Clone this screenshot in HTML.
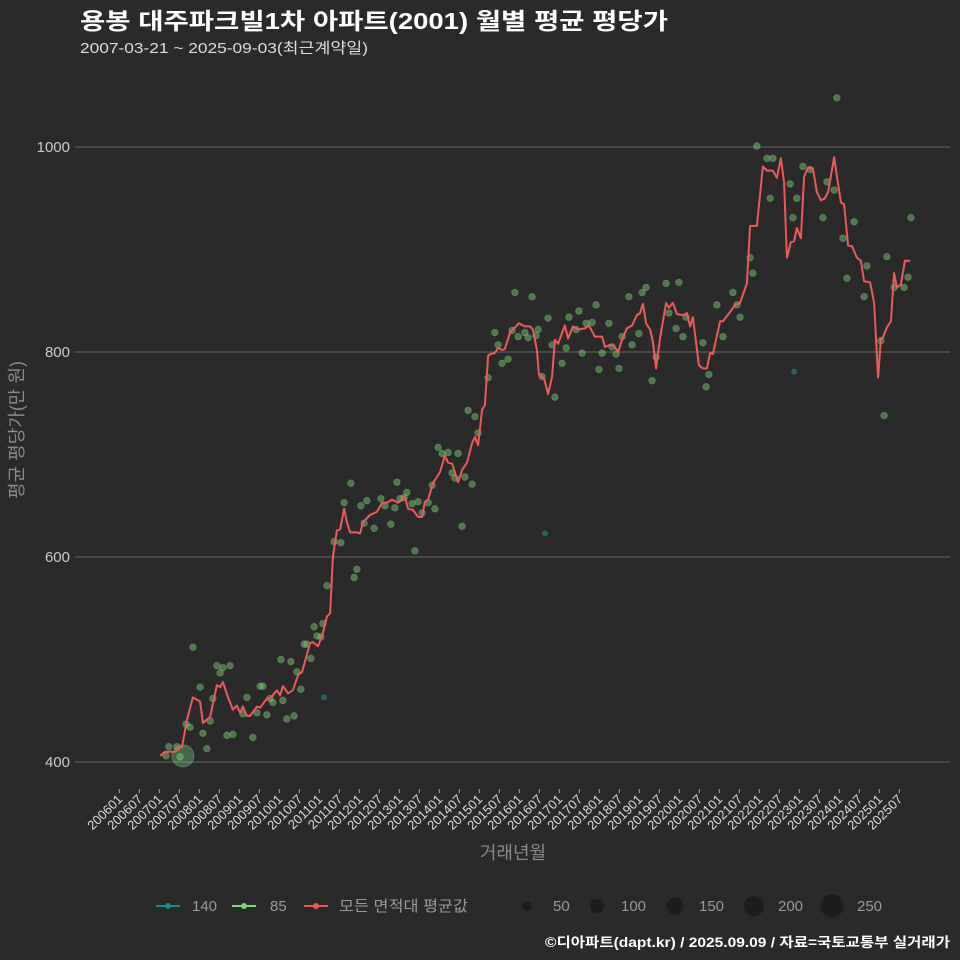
<!DOCTYPE html>
<html><head><meta charset="utf-8">
<style>
html,body{margin:0;padding:0;background:#2a2a2b;}
svg{display:block;font-family:"Liberation Sans","Noto Sans CJK KR",sans-serif;}
</style></head>
<body>
<svg id="chart" width="960" height="960" viewBox="0 0 960 960">
<rect width="960" height="960" fill="#2a2a2b"/>
<text x="80" y="29" fill="#ffffff" font-size="23" font-weight="bold" textLength="588" lengthAdjust="spacingAndGlyphs">용봉 대주파크빌1차 아파트(2001) 월별 평균 평당가</text>
<text x="80" y="53" fill="#dddddd" font-size="15" textLength="288" lengthAdjust="spacingAndGlyphs">2007-03-21 ~ 2025-09-03(최근계약일)</text>
<g id="grid"></g>
<g id="yticks"></g>
<g id="xticks"></g>
<g id="pts"></g>
<g id="line"></g>
<text transform="translate(23,430) rotate(-90)" text-anchor="middle" fill="#8a8a8a" font-size="18">평균 평당가(만 원)</text>
<text x="513" y="859" text-anchor="middle" fill="#8a8a8a" font-size="18">거래년월</text>
<g font-size="15" fill="#9a9a9a">
  <g>
    <line x1="156" y1="906" x2="180" y2="906" stroke="#1f8c8c" stroke-width="2"/>
    <circle cx="168" cy="906" r="3" fill="#1f8c8c"/>
    <text x="192" y="911" fill="#9a9a9a">140</text></g>
  <g>
    <line x1="232" y1="906" x2="256" y2="906" stroke="#7ed37a" stroke-width="2"/>
    <circle cx="244" cy="906" r="3" fill="#7ed37a"/>
    <text x="270" y="911" fill="#9a9a9a">85</text></g>
  <g>
    <line x1="304" y1="906" x2="328" y2="906" stroke="#e85a5a" stroke-width="2"/>
    <circle cx="316" cy="906" r="3" fill="#e85a5a"/>
    <text x="339" y="911" fill="#9a9a9a" textLength="129" lengthAdjust="spacingAndGlyphs">모든 면적대 평균값</text></g>
  <g>
    <circle cx="527" cy="906" r="5" fill="#1c1c1c"/><text x="553" y="911">50</text>
    <circle cx="597" cy="906" r="7" fill="#1c1c1c"/><text x="621" y="911">100</text>
    <circle cx="675" cy="906" r="8.5" fill="#1c1c1c"/><text x="699" y="911">150</text>
    <circle cx="754" cy="906" r="10" fill="#1c1c1c"/><text x="778" y="911">200</text>
    <circle cx="832" cy="906" r="11.5" fill="#1c1c1c"/><text x="857" y="911">250</text>
  </g>
</g>
<text x="950" y="947" text-anchor="end" fill="#ffffff" font-size="13.5" font-weight="bold" textLength="405" lengthAdjust="spacingAndGlyphs">©디아파트(dapt.kr) / 2025.09.09 / 자료=국토교통부 실거래가</text>
</svg>
<script>
const yTicks = [400, 600, 800, 1000];
const xTickLabels = [];
for (let y = 2006; y <= 2025; y++) { xTickLabels.push(y + "01"); xTickLabels.push(y + "07"); }
const lineT = [2007.02,2007.14,2007.39,2007.57,2007.69,2007.84,2008.02,2008.09,2008.27,2008.44,2008.52,2008.59,2008.72,2008.84,2008.94,2009.02,2009.09,2009.19,2009.27,2009.44,2009.52,2009.69,2009.77,2009.94,2010.02,2010.09,2010.22,2010.34,2010.47,2010.57,2010.77,2010.84,2010.97,2011.09,2011.19,2011.27,2011.34,2011.44,2011.52,2011.62,2011.69,2011.77,2011.94,2012.02,2012.09,2012.27,2012.44,2012.57,2012.69,2012.82,2012.97,2013.14,2013.22,2013.34,2013.47,2013.57,2013.64,2013.72,2013.84,2014.02,2014.14,2014.22,2014.32,2014.47,2014.57,2014.69,2014.82,2014.89,2014.97,2015.07,2015.14,2015.22,2015.27,2015.39,2015.47,2015.57,2015.64,2015.77,2015.84,2015.99,2016.14,2016.27,2016.34,2016.44,2016.49,2016.62,2016.72,2016.82,2016.89,2016.97,2017.14,2017.22,2017.34,2017.47,2017.64,2017.74,2017.89,2018.07,2018.14,2018.27,2018.37,2018.47,2018.57,2018.69,2018.82,2018.94,2019.02,2019.09,2019.17,2019.27,2019.34,2019.42,2019.52,2019.67,2019.74,2019.84,2019.94,2020.09,2020.19,2020.27,2020.34,2020.49,2020.59,2020.69,2020.77,2020.84,2021.02,2021.09,2021.27,2021.39,2021.52,2021.69,2021.77,2021.94,2022.09,2022.19,2022.34,2022.44,2022.54,2022.62,2022.69,2022.79,2022.87,2022.94,2023.04,2023.12,2023.22,2023.34,2023.44,2023.54,2023.64,2023.72,2023.87,2024.04,2024.12,2024.22,2024.32,2024.44,2024.54,2024.62,2024.77,2024.87,2024.97,2025.04,2025.09,2025.19,2025.29,2025.37,2025.44,2025.54,2025.64,2025.77];
const lineV = [406,410,410,415,441,463,459,438,444,475,473,478,463,451,455,448,454,445,445,454,453,462,462,470,465,474,467,470,485,488,516,517,513,526,542,545,600,626,627,647,634,624,624,623,634,641,644,653,653,656,653,659,647,646,639,639,654,656,672,683,699,692,691,673,685,692,711,717,709,744,748,796,798,799,804,802,803,819,822,828,825,825,822,802,778,774,759,776,812,808,826,813,825,822,823,826,815,815,805,807,806,800,812,823,826,836,838,847,828,822,810,784,814,848,843,848,837,836,838,825,834,787,784,784,799,798,830,830,839,846,848,867,923,923,981,977,977,970,989,965,892,907,908,921,911,971,980,979,956,948,950,956,990,946,944,904,903,892,889,869,868,848,775,813,814,824,830,877,863,866,889,889];
const ptsT = [2007.17,2007.24,2007.44,2007.52,2007.84,2007.67,2007.77,2008.02,2008.09,2008.19,2008.27,2008.34,2008.44,2008.52,2008.59,2008.77,2008.69,2008.84,2009.19,2009.09,2009.34,2009.44,2009.52,2009.59,2009.69,2009.77,2009.84,2010.04,2010.09,2010.19,2010.29,2010.37,2010.44,2010.54,2010.62,2010.69,2010.79,2010.87,2010.94,2011.04,2011.09,2011.19,2011.37,2011.54,2011.62,2011.79,2011.87,2011.94,2012.04,2012.12,2012.19,2012.37,2012.54,2012.64,2012.79,2012.89,2013.02,2012.94,2013.19,2013.12,2013.32,2013.47,2013.57,2013.39,2013.72,2013.82,2013.89,2013.97,2014.07,2014.22,2014.32,2014.39,2014.47,2014.57,2014.64,2014.82,2014.72,2014.89,2014.97,2015.22,2015.39,2015.47,2015.57,2015.72,2015.82,2015.89,2015.97,2016.14,2016.22,2016.32,2016.42,2016.47,2016.57,2016.72,2016.82,2016.89,2017.07,2017.17,2017.24,2017.42,2017.49,2017.57,2017.67,2017.82,2017.92,2017.99,2018.07,2018.24,2018.32,2018.42,2018.49,2018.57,2018.74,2018.82,2018.99,2019.07,2019.17,2019.32,2019.42,2019.67,2019.74,2019.99,2019.92,2020.09,2020.17,2020.59,2020.67,2020.74,2020.94,2021.09,2021.34,2021.44,2021.52,2021.77,2021.84,2021.94,2022.19,2022.34,2022.27,2022.77,2022.84,2022.94,2023.09,2023.27,2023.59,2023.69,2023.87,2023.94,2024.09,2024.19,2024.37,2024.69,2024.62,2025.04,2025.12,2025.19,2025.37,2025.62,2025.72,2025.79];
const ptsV = [406,415,415,405,512,437,434,473,428,413,440,462,494,487,492,494,426,427,463,447,424,448,474,474,446,462,458,500,460,442,498,445,488,471,515,515,501,532,523,522,535,572,615,614,653,672,580,588,650,633,655,628,657,650,632,648,657,673,663,658,652,654,643,606,653,670,647,707,701,702,682,677,701,630,678,671,743,737,721,775,819,807,789,793,821,858,815,819,814,854,816,822,776,833,807,756,789,804,834,822,840,799,828,829,846,783,799,828,805,798,784,815,854,807,818,858,863,772,795,867,838,868,823,815,834,809,766,778,846,815,858,846,834,892,877,1001,989,989,950,964,931,950,981,978,931,966,958,1048,911,872,927,884,854,811,738,893,863,863,873,931];
const bigT = [2007.59];
const bigV = [406];
const tealT = [2011.12, 2016.64, 2022.87];
const tealV = [463, 623, 781];

const NS = "http://www.w3.org/2000/svg";
const xOf = t => 119.3 + (t - 2006) * 40;
const yOf = v => 762 - (v - 400) * 1.025;
function mk(tag, attrs, parent) {
  const e = document.createElementNS(NS, tag);
  for (const k in attrs) e.setAttribute(k, attrs[k]);
  parent.appendChild(e); return e;
}
const grid = document.getElementById("grid"), yt = document.getElementById("yticks");
yTicks.forEach(v => {
  const l = mk("line", {x1: 75, x2: 950, y1: yOf(v), y2: yOf(v), stroke: "#5a5a5a", "stroke-width": 1.2}, grid);
  
  
  const t = mk("text", {x: 70, y: yOf(v) + 5, "text-anchor": "end", fill: "#cccccc", "font-size": 15}, yt);
  t.textContent = v;
  
  
});
const xt = document.getElementById("xticks");
xTickLabels.forEach((lab, i) => {
  const x = xOf(2006 + i * 0.5);
  const tk = mk("line", {x1: x, x2: x, y1: 789, y2: 793, stroke: "#aaaaaa", "stroke-width": 1}, xt);
  
  
  const t = mk("text", {x: x + 4, y: 800, "text-anchor": "end", fill: "#dddddd", "font-size": 13, transform: `rotate(-45 ${x + 4} 800)`}, xt);
  t.textContent = lab;
  
  
});
const pg = document.getElementById("pts");
ptsT.forEach((t, i) => {
  const c = mk("circle", {cx: xOf(t), cy: yOf(ptsV[i]), r: 3.3, fill: "#7ed37a", "fill-opacity": 0.45, stroke: "#8fdc8a", "stroke-opacity": 0.35, "stroke-width": 0.8}, pg);
  
  
});
bigT.forEach((t, i) => {
  const c = mk("circle", {cx: xOf(t), cy: yOf(bigV[i]), r: 11, fill: "#7ed37a", "fill-opacity": 0.35, stroke: "#8fdc8a", "stroke-opacity": 0.35}, pg);
  
  
});
tealT.forEach((t, i) => {
  const c = mk("circle", {cx: xOf(t), cy: yOf(tealV[i]), r: 3, fill: "#1f7f80", "fill-opacity": 0.7}, pg);
  
  
});
const d = lineT.map((t, i) => (i ? "L" : "M") + xOf(t).toFixed(1) + "," + yOf(lineV[i]).toFixed(1)).join("");
const p = mk("path", {d: d, fill: "none", stroke: "#ec5a5a", "stroke-width": 2, "stroke-linejoin": "round"}, document.getElementById("line"));


</script>
</body></html>
